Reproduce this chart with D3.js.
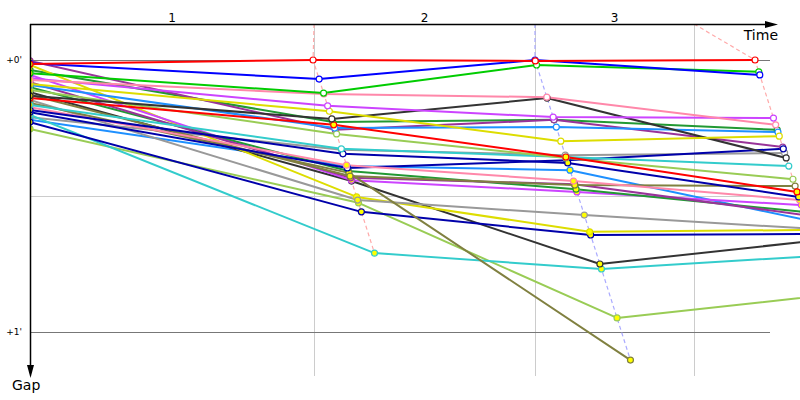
<!DOCTYPE html>
<html><head><meta charset="utf-8">
<script src="https://cdn.jsdelivr.net/npm/d3@7"></script>
<style>html,body{margin:0;padding:0;background:#fff;}svg{display:block;}</style>
</head><body>
<svg id="chart" width="800" height="400"></svg>
<script>
// ---- data ----
const lapLabels = ["1", "2", "3"];
const lapGridTimes = [197.0, 350.2, 460.5];      // s, lap boundary lines
const leaderTimes = [0, 196.3, 350.2, 502.8];    // s, leader time at lap 0..3
const gapTicks = [0, 60];
const gapTickLabels = ["+0'", "+1'"];
const gapMinorTicks = [30];
const lapLineColors = ["#ffaaaa", "#aaaaff", "#ffaaaa"];

const driverColors = [
  "#ff0000", "#0000ff", "#00cc00", "#ff88aa", "#cc44ff", "#dddd00", "#333333", "#ff0000",
  "#1e90ff", "#99cc55", "#33cccc", "#0000aa", "#ff88aa", "#0000aa", "#808040", "#808040",
  "#993399", "#993399", "#229933", "#cc44ff", "#999999", "#dddd00", "#0000aa", "#333333",
  "#33cccc", "#99cc55", "#1e90ff", "#229933", "#999999"
];
// gap to leader (s) at lap 0,1,2,3
const driverGaps = [
  [0.9, 0, 0.2, 0],
  [0.7, 4.2, 0, 3.3],
  [2.9, 7.3, 1.1, 2.6],
  [4.4, 7.5, 8.2, 14.3],
  [4.0, 10.1, 12.6, 12.8],
  [5.3, 11.3, 17.9, 16.8],
  [7.9, 13.0, 8.4, 21.6],
  [8.4, 14.3, 21.4, 29.1],
  [5.5, 15.0, 14.8, 15.9],
  [6.6, 16.3, 21.6, 26.3],
  [9.9, 19.6, 21.4, 23.4],
  [11.0, 20.7, 22.7, 30.2],
  [10.4, 23.2, 26.7, 30.9],
  [11.5, 23.8, 22.1, 19.6],
  [7.7, 25.6, 27.6, 27.8],
  [9.5, 24.9, 66.2],
  [0.2, 15.4, 13.2, 19.2],
  [4.9, 26.0, 27.4, 34.2],
  [6.0, 24.5, 28.5, 33.5],
  [3.3, 26.5, 29.1, 32.0],
  [8.8, 30.9, 34.2, 37.2],
  [1.1, 30.2, 37.9, 37.5],
  [13.7, 33.5, 38.6, 38.4],
  [7.1, 26.7, 45.0, 39.9],
  [12.1, 42.6, 46.1, 43.2],
  [15.2, 31.5, 56.9, 51.8],
  [13.2, 23.4, 24.3, 35.3],
  [2.2, 13.7, 13.2, 15.4],
  [12.6, 19.8, 21.0, 20.5]
];
// 1 = highlighted (yellow) marker at that lap
const driverFlags = [
  [1,0,0,0],[1,0,0,0],[1,0,0,0],[1,0,0,0],[1,0,0,0],[1,0,0,0],[1,0,0,0],[1,1,1,1],
  [1,0,0,0],[1,0,0,0],[1,0,0,0],[1,0,1,1],[1,1,1,1],[1,0,0,0],[1,1,1,0],[1,1,1],
  [1,0,0,0],[1,1,1,1],[1,1,1,1],[1,1,1,1],[1,1,1,1],[1,1,1,1],[1,1,1,1],[1,1,1,1],
  [1,1,1,1],[1,1,1,1],[1,1,1,1],[1,0,0,0],[1,0,0,0]
];

(function () {
const svg = d3.select("#chart");
const x = d3.scaleLinear().domain([0, 500]).range([30, 751]);
const y = d3.scaleLinear().domain([0, 60]).range([60, 332]);
const yTop = 24, yBottom = 376, xEnd = 770;
const font = "DejaVu Sans, Verdana, sans-serif";

svg.append("defs").append("clipPath").attr("id", "plot").append("rect")
  .attr("x", 30).attr("y", yTop).attr("width", 770).attr("height", yBottom - yTop + 10);

// grid
svg.append("g").selectAll("line").data(lapGridTimes).join("line")
  .attr("x1", d => Math.round(x(d)) + 0.5).attr("x2", d => Math.round(x(d)) + 0.5)
  .attr("y1", yTop).attr("y2", yBottom)
  .attr("stroke", "#cccccc").attr("stroke-width", 1);
svg.append("g").selectAll("line").data(gapMinorTicks).join("line")
  .attr("x1", 30).attr("x2", xEnd).attr("y1", d => Math.round(y(d)) + 0.5).attr("y2", d => Math.round(y(d)) + 0.5)
  .attr("stroke", "#cccccc").attr("stroke-width", 1);
svg.append("g").selectAll("line").data(gapTicks).join("line")
  .attr("x1", 30).attr("x2", xEnd).attr("y1", d => Math.round(y(d)) + 0.5).attr("y2", d => Math.round(y(d)) + 0.5)
  .attr("stroke", "#777777").attr("stroke-width", 1);

// lap labels
const lapBounds = [0].concat(lapGridTimes);
svg.append("g").selectAll("text").data(lapLabels).join("text")
  .attr("x", (d, i) => (x(lapBounds[i]) + x(lapBounds[i + 1])) / 2)
  .attr("y", 22).attr("text-anchor", "middle")
  .attr("font-family", font).attr("font-size", 12).attr("fill", "#000").text(d => d);

// gap tick labels
svg.append("g").selectAll("text").data(gapTicks).join("text")
  .attr("x", 22).attr("y", d => y(d) + 3).attr("text-anchor", "end")
  .attr("font-family", font).attr("font-size", 9).attr("fill", "#000")
  .text((d, i) => gapTickLabels[i]);

const drivers = driverGaps.map((g, i) => ({
  color: driverColors[i],
  pts: g.map((v, lap) => ({
    lap, gap: v, flag: driverFlags[i][lap],
    t: lap === 0 ? 0 : leaderTimes[lap] + v
  }))
}));

const plot = svg.append("g").attr("clip-path", "url(#plot)");

// dashed lap lines
for (let lap = 1; lap <= 3; lap++) {
  const pts = drivers.map(d => d.pts[lap]).filter(Boolean).sort((a, b) => a.gap - b.gap);
  const coords = [[x(lapGridTimes[lap - 1]), yTop]].concat(pts.map(p => [x(p.t), y(p.gap)]));
  plot.append("path").attr("d", d3.line()(coords))
    .attr("fill", "none").attr("stroke", lapLineColors[lap - 1])
    .attr("stroke-width", 1.2).attr("stroke-dasharray", "4,3");
}

// driver lines
const line = d3.line().x(p => x(p.t)).y(p => y(p.gap));
plot.append("g").selectAll("path").data(drivers.slice().reverse()).join("path")
  .attr("d", d => line(d.pts))
  .attr("fill", "none").attr("stroke", d => d.color).attr("stroke-width", 2)
  .attr("stroke-linejoin", "round");

// markers
drivers.slice().reverse().forEach(d => {
  plot.append("g").selectAll("circle").data(d.pts).join("circle")
    .attr("cx", p => x(p.t)).attr("cy", p => y(p.gap)).attr("r", 3)
    .attr("fill", p => p.flag ? "#ffff00" : "#ffffff")
    .attr("stroke", d.color).attr("stroke-width", 1.2);
});

// axes
svg.append("line").attr("x1", 30).attr("x2", 768).attr("y1", yTop + 0.5).attr("y2", yTop + 0.5)
  .attr("stroke", "#000").attr("stroke-width", 1.5);
svg.append("path").attr("d", `M765,${yTop - 3}L778,${yTop + 0.5}L765,${yTop + 4}Z`).attr("fill", "#000");
svg.append("line").attr("x1", 30.5).attr("x2", 30.5).attr("y1", yTop).attr("y2", 368)
  .attr("stroke", "#000").attr("stroke-width", 1.5);
svg.append("path").attr("d", `M27,365L30.5,378L34,365Z`).attr("fill", "#000");

svg.append("text").attr("x", 778).attr("y", 40).attr("text-anchor", "end")
  .attr("font-family", font).attr("font-size", 14).attr("fill", "#000").text("Time");
svg.append("text").attr("x", 12).attr("y", 390)
  .attr("font-family", font).attr("font-size", 14).attr("fill", "#000").text("Gap");
})();
</script>
</body></html>
